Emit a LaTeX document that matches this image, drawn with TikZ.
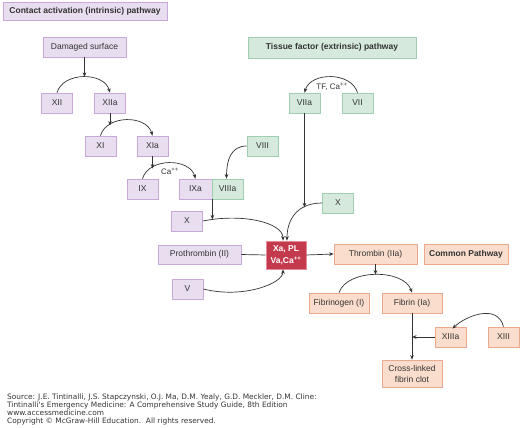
\documentclass[tikz,border=0pt]{standalone}
\usepackage{fontspec}
\setmainfont{Liberation Sans}
\newfontfamily\srcfont{DejaVu Sans}
\usepackage{xcolor}
\definecolor{intrBack}{HTML}{E9DDF0}
\definecolor{intrLine}{HTML}{C9A9D9}
\definecolor{extrBack}{HTML}{D5E9DC}
\definecolor{extrLine}{HTML}{9FCFB1}
\definecolor{commBack}{HTML}{FADDCC}
\definecolor{commLine}{HTML}{EBAA8D}
\definecolor{keyBack} {HTML}{C33A4D}
\definecolor{keyLine} {HTML}{E88A96}
\definecolor{ink}     {HTML}{333333}
\usetikzlibrary{arrows.meta}

\begin{document}
\begin{tikzpicture}[x=1pt,y=-1pt,
    fac/.style={draw, line width=0.7pt, inner sep=0pt, minimum width=31pt,
        minimum height=20pt, text=ink, align=center,
        font=\fontsize{8.5}{11}\selectfont},
    intr/.style={fac, fill=intrBack, draw=intrLine},
    extr/.style={fac, fill=extrBack, draw=extrLine},
    comm/.style={fac, fill=commBack, draw=commLine},
    wire/.style={draw=ink, line width=0.7pt},
    arrw/.style={wire, -{Stealth[length=4.5pt,width=3.6pt]}}]
    \useasboundingbox (0,0) rectangle (520,428);

    % --- Intrinsic pathway ---
    \node[intr, minimum width=164pt, minimum height=18pt, font=\fontsize{8.5}{11}\selectfont\bfseries]
        (ttlA) at (85,11) {Contact activation (intrinsic) pathway};
    \node[intr, minimum width=83pt] (dmg)  at (84.5,47)  {Damaged surface};
    \node[intr] (xii)   at (57,103)    {XII};
    \node[intr] (xiia)  at (110,103)   {XIIa};
    \node[intr] (xi)    at (100.5,146) {XI};
    \node[intr] (xia)   at (152.5,146) {XIa};
    \node[intr] (ix)    at (142.5,189) {IX};
    \node[intr, minimum width=33pt] (ixa) at (195.5,189) {IXa};
    \node[intr] (xl)    at (187,221)   {X};
    \node[intr, minimum width=83pt, minimum height=19pt] (proth) at (199.5,254.5) {Prothrombin (II)};
    \node[intr] (v)     at (187.5,289) {V};

    \draw[arrw] (xii.north) .. controls +(6,-21) and +(-6,-21) .. (xiia.north)
        coordinate[pos=0.5] (k1);
    \draw[arrw] (dmg.south) -- (dmg.south |- k1);
    \draw[arrw] (xi.north) .. controls +(6,-21) and +(-6,-21) .. (xia.north)
        coordinate[pos=0.2] (k2);
    \draw[arrw] (xiia.south) -- (xiia.south |- k2);
    \draw[arrw] (ix.north) .. controls +(6,-21) and +(-6,-21) .. (ixa.north)
        coordinate[pos=0.2] (k3);
    \draw[arrw] (xia.south) -- (xia.south |- k3);
    \node[text=ink, font=\fontsize{8}{10}\selectfont] (ca1) at (170,171) {Ca\textsuperscript{++}};

    % --- Extrinsic pathway ---
    \node[extr, minimum width=168pt, minimum height=21pt, font=\fontsize{8.5}{11}\selectfont\bfseries]
        (ttlB) at (332,47.5) {Tissue factor (extrinsic) pathway};
    \node[extr] (viia)  at (304.5,103) {VIIa};
    \node[extr] (vii)   at (357.5,103) {VII};
    \node[extr] (viii)  at (262.5,146) {VIII};
    \node[extr] (viiia) at (227.5,189) {VIIIa};
    \node[extr] (xg)    at (338,203)   {X};

    \draw[arrw] (vii.north) .. controls +(-6,-21) and +(6,-21) .. (viia.north);
    \node[text=ink, font=\fontsize{8}{10}\selectfont] (ca2) at (332,87) {TF, Ca\textsuperscript{++}};
    \draw[arrw] (viii.west) .. controls +(-16,0) and +(0,-18) .. ([xshift=-1pt]viiia.north);

    % --- Tenase / prothrombinase ---
    \node[fac, fill=keyBack, draw=keyLine, text=white, minimum width=40pt, minimum height=28pt,
        font=\fontsize{8.5}{12}\selectfont\bfseries] (xa) at (286,255) {Xa, PL\\Va,Ca\textsuperscript{++}};

    \draw[arrw] (xl.east) .. controls +(40,-8) and +(0,-18) .. ([xshift=-3pt]xa.north)
        coordinate[pos=0.08] (k4);
    \draw[arrw] (ixa.south east) -- (ixa.south east |- k4);
    \draw[arrw] (xg.west) .. controls +(-26,0) and +(0,-20) .. ([xshift=1pt]xa.north)
        coordinate[pos=0.3] (k5);
    \draw[arrw] (viia.south) -- (viia.south |- k5);
    \draw[wire] (proth.east) -- (xa.west);
    \draw[arrw] (v.east) .. controls +(40,10) and +(0,14) .. ([xshift=-3pt]xa.south);

    % --- Common pathway ---
    \node[comm, minimum width=83pt] (thr) at (375.5,254) {Thrombin (IIa)};
    \node[comm, minimum width=84pt, font=\fontsize{8.5}{11}\selectfont\bfseries] (cmn) at (466,254) {Common Pathway};
    \node[comm, minimum width=60pt] (fbg)  at (339,303)   {Fibrinogen (I)};
    \node[comm, minimum width=60pt] (fbn)  at (412,303)   {Fibrin (Ia)};
    \node[comm] (xiiia) at (450.5,337) {XIIIa};
    \node[comm] (xiii)  at (503.5,337) {XIII};
    \node[comm, minimum width=60pt, minimum height=27pt] (clot) at (412,373.5) {Cross-linked\\fibrin clot};

    \draw[arrw] (xa.east) -- (thr.west);
    \draw[arrw] (fbg.north) .. controls +(8,-24) and +(-8,-24) .. (fbn.north)
        coordinate[pos=0.5] (k6);
    \draw[arrw] (thr.south) -- (thr.south |- k6);
    \draw[arrw] (fbn.south) -- (clot.north);
    \draw[arrw] (xiiia.west) -- (fbn.south |- xiiia.west);
    \draw[arrw] (xiii.north) .. controls +(-6,-24) and +(12,-12) .. ([xshift=2pt,yshift=-2pt]xiiia.north);

    % --- Source ---
    \node[anchor=north west, align=left, inner sep=0pt, text=ink,
        font=\srcfont\fontsize{7.4}{7.9}\selectfont] (src) at (7,394)
        {Source: J.E. Tintinalli, J.S. Stapczynski, O.J. Ma, D.M. Yealy, G.D. Meckler, D.M. Cline:\\
         Tintinalli's Emergency Medicine: A Comprehensive Study Guide, 8th Edition\\
         www.accessmedicine.com\\
         Copyright © McGraw-Hill Education.\ \ All rights reserved.};
\end{tikzpicture}
\end{document}
